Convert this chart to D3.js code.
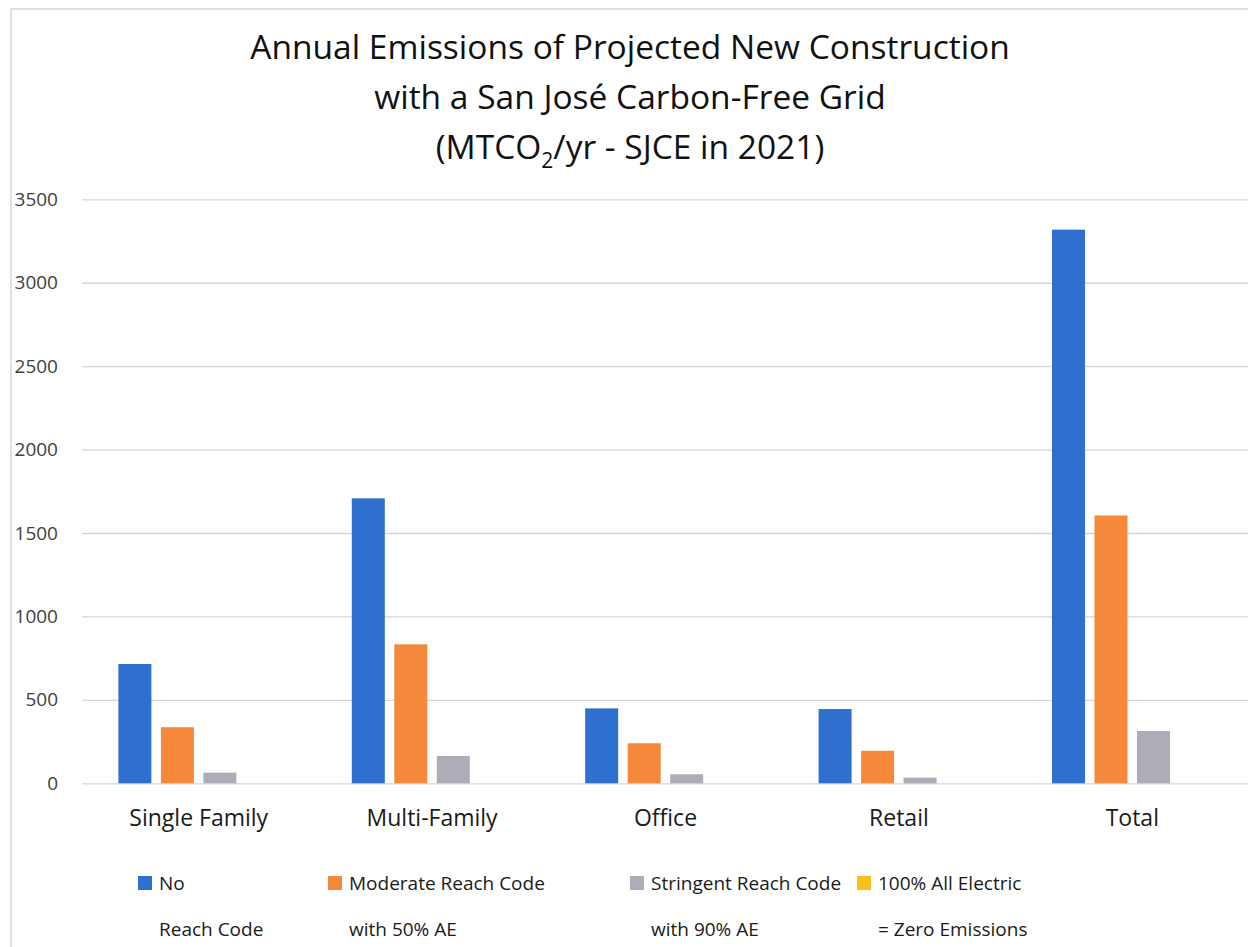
<html>
  <head>
    <script src="https://cdn.jsdelivr.net/npm/d3@7/dist/d3.min.js"></script>
    <style>
      * {
        margin: 0;
        padding: 0;
      }
      body {
        background-color: white;
        font-family: "Open Sans", sans-serif;
      }
      .grid line {
        stroke: #d6d6d6;
        stroke-width: 1.3;
      }
      .y-labels text {
        fill: #404040;
        font-size: 19px;
      }
      .x-labels text {
        fill: #1a1a1a;
        font-size: 23px;
      }
      .legend text {
        fill: #1a1a1a;
        font-size: 19px;
      }
    </style>
  </head>
  <body>
    <div id="container"></div>
    <script>
      const categories = ["Single Family", "Multi-Family", "Office", "Retail", "Total"];
      const seriesNames = ["none", "moderate", "stringent", "allElectric"];
      const seriesLabels = [
        ["No", "Reach Code"],
        ["Moderate Reach Code", "with 50% AE"],
        ["Stringent Reach Code", "with 90% AE"],
        ["100% All Electric", "= Zero Emissions"]
      ];
      const noReachCode = [715, 1708, 449, 445, 3318];
      const moderate = [336, 833, 240, 195, 1605];
      const stringent = [64, 164, 54, 34, 313];
      const allElectric = [0, 0, 0, 0, 0];
      const yTicks = [0, 500, 1000, 1500, 2000, 2500, 3000, 3500];
      const colors = ["#2f6fcf", "#f5883a", "#adadb8", "#f9c21a"];

      const values = [noReachCode, moderate, stringent, allElectric];

      const w = 1248;
      const h = 947;
      const plotLeft = 82;
      const plotRight = 1249;
      const plotTop = 199.3;
      const plotBottom = 783.3;

      const svg = d3
        .select("#container")
        .append("svg")
        .attr("width", w)
        .attr("height", h);

      // chart frame (left and top edges visible in the scan)
      svg
        .append("path")
        .attr("d", "M11," + h + "V9H" + w)
        .attr("fill", "none")
        .attr("stroke", "#d8d8d8")
        .attr("stroke-width", 1.5);

      const title = svg
        .append("text")
        .attr("text-anchor", "middle")
        .attr("fill", "#111")
        .style("font-size", "33.5px");
      title.append("tspan").attr("x", 630).attr("y", 59).text("Annual Emissions of Projected New Construction");
      title.append("tspan").attr("x", 630).attr("y", 109).text("with a San José Carbon-Free Grid");
      const line3 = title.append("tspan").attr("x", 630).attr("y", 159);
      line3.append("tspan").text("(MTCO");
      line3.append("tspan").attr("dy", 9).style("font-size", "21px").text("2");
      line3.append("tspan").attr("dy", -9).text("/yr - SJCE in 2021)");

      const xScale = d3.scaleBand().domain(categories).range([plotLeft, plotRight]);
      const x1 = d3
        .scaleBand()
        .domain(seriesNames)
        .range([36.4, 196.9])
        .paddingInner(0.2235);

      const yScale = d3.scaleLinear().domain([0, 3500]).range([plotBottom, plotTop]);

      svg
        .append("g")
        .attr("class", "grid")
        .attr("transform", "translate(" + plotLeft + ",0)")
        .call(d3.axisLeft(yScale).tickValues(yTicks).tickSize(-(w - plotLeft)).tickFormat(""))
        .call((g) => g.select(".domain").remove());

      svg
        .append("g")
        .attr("class", "y-labels")
        .attr("transform", "translate(" + plotLeft + ",0)")
        .call(d3.axisLeft(yScale).tickValues(yTicks).tickFormat(d3.format("d")).tickSize(0).tickPadding(24))
        .call((g) => g.select(".domain").remove())
        .selectAll("text")
        .style("font-family", "Open Sans");

      const groups = svg
        .selectAll(".cat")
        .data(categories)
        .enter()
        .append("g")
        .attr("class", "cat")
        .attr("transform", (d) => "translate(" + xScale(d) + ",0)");

      groups
        .selectAll("rect")
        .data((d, i) => seriesNames.map((s, j) => ({ s: s, v: values[j][i], c: colors[j] })))
        .enter()
        .append("rect")
        .attr("x", (d) => x1(d.s))
        .attr("y", (d) => yScale(d.v))
        .attr("width", x1.bandwidth())
        .attr("height", (d) => plotBottom - yScale(d.v))
        .attr("fill", (d) => d.c);

      svg
        .append("g")
        .attr("class", "x-labels")
        .attr("transform", "translate(0," + plotBottom + ")")
        .call(d3.axisBottom(xScale).tickSize(0).tickPadding(26))
        .call((g) => g.select(".domain").remove())
        .selectAll("text")
        .style("font-family", "Open Sans");

      const legendX = [138, 328, 630, 857];
      const legend = svg
        .selectAll(".legend")
        .data(seriesLabels)
        .enter()
        .append("g")
        .attr("class", "legend")
        .attr("transform", (d, i) => "translate(" + legendX[i] + ",876)");

      legend
        .append("rect")
        .attr("width", 14)
        .attr("height", 14)
        .attr("fill", (d, i) => colors[i]);

      legend
        .append("text")
        .attr("x", 21)
        .attr("y", 14)
        .text((d) => d[0]);
      legend
        .append("text")
        .attr("x", 21)
        .attr("y", 60)
        .text((d) => d[1]);
    </script>
  </body>
</html>
